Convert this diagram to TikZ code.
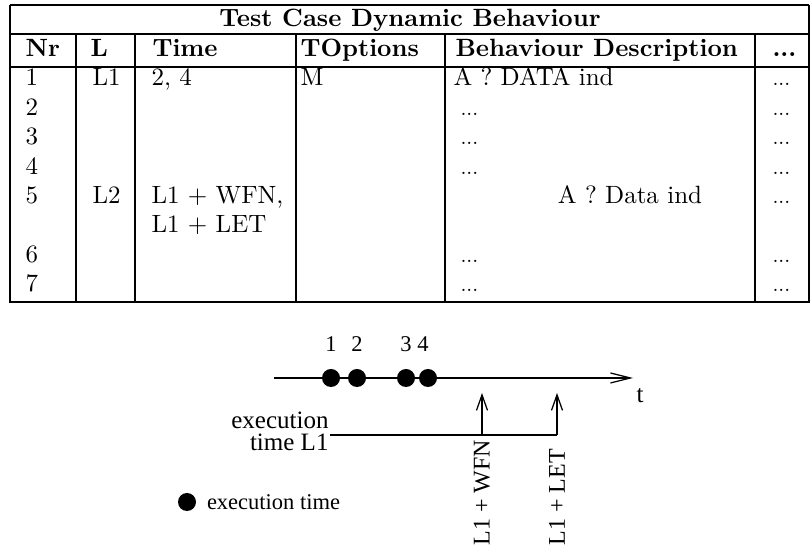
\documentclass[tikz,border=0pt]{standalone}
\usepackage{fontspec}
\newfontfamily\timefont{Liberation Serif}
\usetikzlibrary{arrows.meta,positioning}

\begin{document}
\begin{tikzpicture}[
  x=0.4pt, y=-0.4pt,
  thinrule/.style={line width=0.6pt},
  thickrule/.style={line width=1.05pt},
  cell/.style={anchor=base west, inner sep=0pt},
  head/.style={cell, font=\bfseries},
  dots/.style={cell, font=\footnotesize},
  tl/.style={font=\timefont\fontsize{9}{7.8}\selectfont, inner sep=0pt},
  tlbig/.style={font=\timefont\fontsize{10}{8.8}\selectfont, inner sep=0pt},
  rotlab/.style={font=\timefont\fontsize{9.6}{9}\selectfont, inner sep=0pt, rotate=90, anchor=west},
  axis/.style={line width=0.5pt, -{Straight Barb[length=8pt, width=4pt]}},
  tick/.style={line width=0.5pt, -{Straight Barb[length=6.2pt, width=4.4pt]}},
  evt/.style={circle, fill=black, inner sep=0pt, minimum size=7.2pt}
]
\useasboundingbox (0,0) rectangle (812,550);

% ---------- Tabelle ----------
\draw[thinrule] (10,5) -- (809,5);
\draw[thinrule] (10,34) -- (809,34);
\draw[thickrule] (10,5) -- (10,302) -- (809,302) -- (809,5);
\draw[thickrule] (10,67) -- (809,67);
\foreach \x in {76,135,296,445,755} \draw[thickrule] (\x,34) -- (\x,302);

\node[head, anchor=base] (title) at (410,27) {Test Case Dynamic Behaviour};
\node[head] (hnr) at (25,57) {Nr};
\node[head] (hl) at (90,57) {L};
\node[head] (htime) at (152,57) {Time};
\node[head] (hopt) at (300,57) {TOptions};
\node[head] (hbeh) at (455,57) {Behaviour Description};
\node[head] (hmore) at (772,57) {...};

% Zeilen
\foreach \r/\b in {1/86,2/115.4,3/144.8,4/174.2,5/203.6,6/262.4,7/291.8} {
  \node[cell] (nr\r) at (25,\b) {\r};
  \node[dots] (more\r) at (772,\b) {...};
}
\foreach \r/\b in {2/115.4,3/144.8,4/174.2,6/262.4,7/291.8}
  \node[dots] (beh\r) at (460,\b) {...};

\node[cell] (l1) at (92,86) {L1};
\node[cell] (time1) at (151,86) {2,\ 4};
\node[cell] (opt1) at (300,86) {M};
\node[cell] (beh1) at (453,86) {A ? DATA ind};
\node[cell] (l5) at (92,203.6) {L2};
\node[cell] (time5) at (151,203.6) {L1 $+$ WFN,};
\node[cell] (time5b) at (151,233) {L1 $+$ LET};
\node[cell, anchor=base] (beh5) at (630,203.6) {A ? Data ind};

% ---------- Zeitachse ----------
\coordinate (t0) at (274,378);
\coordinate (t1) at (633,378);
\draw[axis] (t0) -- (t1);
\node[tlbig] (tlab) at (640,396) {t};
\foreach \i/\x/\lx in {1/331/331,2/357/357,3/406/406,4/428/423} {
  \node[evt] (d\i) at (\x,378) {};
  \node[tl, anchor=base] (n\i) at (\lx,352) {\i};
}

% Ausfuehrungszeit L1
\node[tlbig, align=right, anchor=east] (exec) at (329,431) {execution\\time L1};
\coordinate (l1start) at (330,435);
\coordinate (wfn) at (482,435);
\coordinate (let) at (557,435);
\coordinate (wfntip) at (482,393);
\coordinate (lettip) at (557,393);
\draw[line width=0.5pt] (l1start) -- (let);
\draw[tick] (wfn) -- (wfntip);
\draw[tick] (let) -- (lettip);
\node[rotlab] (wfnlab) at (482,546) {L1 + WFN};
\node[rotlab] (letlab) at (557,546) {L1 + LET};

% Legende
\node[evt] (key) at (187,502) {};
\node[tl, right=4pt of key] (keytxt) {execution time};

\end{tikzpicture}
\end{document}
